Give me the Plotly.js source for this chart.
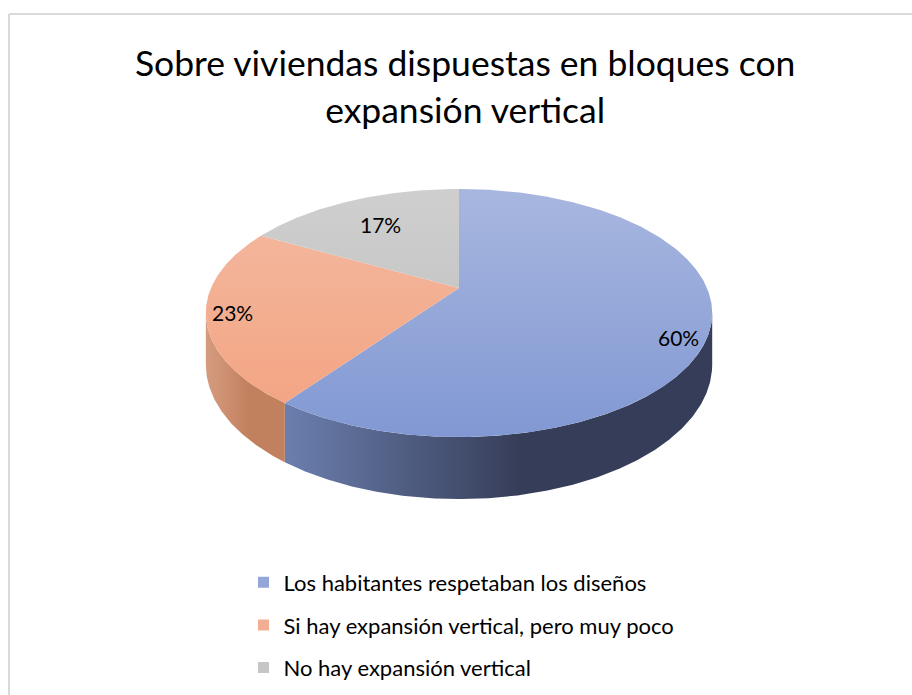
<!DOCTYPE html>
<html>
<head>
<meta charset="utf-8">
<script src="https://cdn.plot.ly/plotly-3.0.1.min.js"></script>
<style>
html,body{margin:0;padding:0;background:#fff;}
#chart{width:912px;height:695px;}
</style>
</head>
<body>
<div id="chart"></div>
<script>
// ---- data ----
const categories = [
  'Los habitantes respetaban los diseños',
  'Si hay expansión vertical, pero muy poco',
  'No hay expansión vertical'
];
const values = [60, 23, 17];
const chartTitle = 'Sobre viviendas dispuestas en bloques con<br>expansión vertical';

// ---- style ----
const topColors = [['#a8b7df', '#8198d3'], ['#f3baa2', '#f3a27f'], ['#cfcfcf', '#bcbcbc']];
const rimColors = [['#6b7fae', '#363d58'], ['#d69c80', '#c1805e']];
const legendColors = ['#93a6d8', '#f2ae92', '#c6c6c6'];
const FONT = 'Lato, "Open Sans", sans-serif';

// projection of a tilted disc with perspective (pixel units)
const P = {cx: 459, cy: 288, a: 248, b: 119, k: 0.2016, d: 49.5};
function proj(r, theta, depth) {
  const X = r * Math.sin(theta), Z = r * Math.cos(theta);
  const w = 1 + P.k * Z;
  return [P.cx + P.a * X / w, P.cy + (-P.b * Z + depth) / w];
}

const total = values.reduce((s, v) => s + v, 0);
const bounds = [];
let acc = 0;
values.forEach(v => { const t0 = acc / total * 2 * Math.PI; acc += v; bounds.push([t0, acc / total * 2 * Math.PI]); });

const topY = proj(1, 0, 0)[1], botY = proj(1, Math.PI, 0)[1];
const visA = Math.acos(-P.k), visB = 2 * Math.PI - Math.acos(-P.k);
const STEP = Math.PI / 360;

function arc(t0, t1, depth) {
  const pts = [];
  const n = Math.max(2, Math.ceil((t1 - t0) / STEP));
  for (let i = 0; i <= n; i++) pts.push(proj(1, t0 + (t1 - t0) * i / n, depth));
  return pts;
}

const traces = [];
// side (rim) faces first
bounds.forEach((bd, i) => {
  const s = Math.max(bd[0], visA), e = Math.min(bd[1], visB);
  if (s >= e) return;
  const pts = arc(s, e, 0).concat(arc(s, e, P.d).reverse());
  pts.push(pts[0]);
  const c = rimColors[i];
  traces.push({
    type: 'scatter', mode: 'lines', x: pts.map(p => p[0]), y: pts.map(p => p[1]), fill: 'toself',
    line: {width: 0, color: c[0]},
    fillcolor: c[1],
    fillgradient: {type: 'horizontal', colorscale: [[0, c[0]], [0.55, c[1]], [1, c[1]]]},
    hoverinfo: 'skip', showlegend: false
  });
});
// top faces
bounds.forEach((bd, i) => {
  const pts = [[P.cx, P.cy]].concat(arc(bd[0], bd[1], 0));
  pts.push([P.cx, P.cy]);
  const c = topColors[i];
  traces.push({
    type: 'scatter', mode: 'lines', x: pts.map(p => p[0]), y: pts.map(p => p[1]), fill: 'toself',
    line: {width: 0, color: c[0]},
    fillcolor: legendColors[i],
    fillgradient: {type: 'vertical', start: topY, stop: botY, colorscale: [[0, c[0]], [1, c[1]]]},
    hoverinfo: 'skip', showlegend: false
  });
});
// legend entries
categories.forEach((name, i) => {
  traces.push({
    type: 'scatter', mode: 'markers', x: [null], y: [null], name: name,
    legendgroup: 'g' + i,
    marker: {symbol: 'square', size: 11, color: legendColors[i]}
  });
});

// percentage labels
const labelR = [0.88, 0.9, 0.7];
const labelShift = [-15, 0, 0];
const annotations = bounds.map((bd, i) => {
  const p = proj(labelR[i], (bd[0] + bd[1]) / 2, 0);
  return {
    x: p[0], y: p[1], xref: 'x', yref: 'y', yshift: labelShift[i],
    text: Math.round(values[i] / total * 100) + '%', showarrow: false,
    font: {family: FONT, size: 21, color: '#000'}
  };
});

const layout = {
  width: 912, height: 695, autosize: false,
  margin: {l: 0, r: 0, t: 0, b: 0},
  paper_bgcolor: '#fff', plot_bgcolor: '#fff',
  title: {
    text: chartTitle, x: 0.51, xanchor: 'center', y: 0.89, yanchor: 'middle',
    yref: 'container',
    font: {family: FONT, size: 35.5, color: '#000'}
  },
  xaxis: {range: [0, 912], visible: false, fixedrange: true},
  yaxis: {range: [695, 0], visible: false, fixedrange: true},
  showlegend: true,
  legend: {
    x: 0.267, xanchor: 'left', y: 0.192, yanchor: 'top',
    font: {family: FONT, size: 22, color: '#000'},
    tracegroupgap: 11, bgcolor: 'rgba(0,0,0,0)'
  },
  annotations: annotations,
  shapes: [
    {type: 'line', xref: 'x', yref: 'y', x0: 9, y0: 14, x1: 912, y1: 14, line: {color: '#d9d9d9', width: 2}},
    {type: 'line', xref: 'x', yref: 'y', x0: 9, y0: 14, x1: 9, y1: 695, line: {color: '#d9d9d9', width: 2}}
  ]
};

Plotly.newPlot('chart', traces, layout, {displayModeBar: false, staticPlot: true});
</script>
</body>
</html>
